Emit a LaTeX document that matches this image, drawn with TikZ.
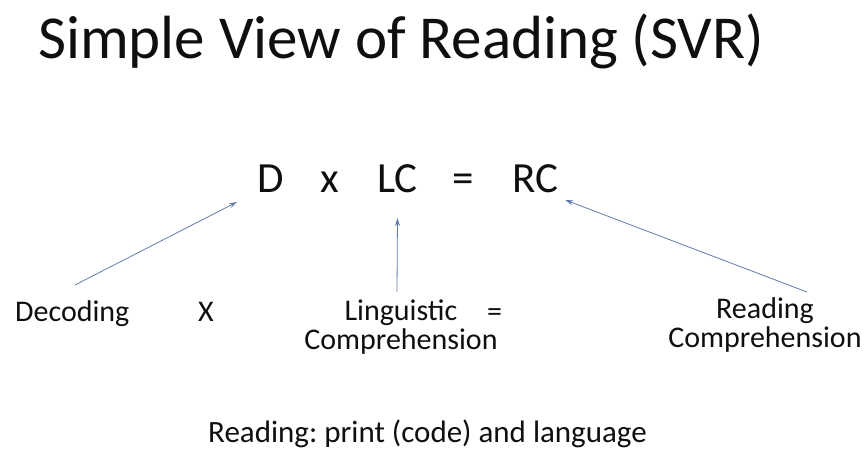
\documentclass[tikz,border=0pt]{standalone}
\usepackage{fontspec}
\setmainfont{Carlito}
\usepackage{tikz}
\usetikzlibrary{arrows.meta,positioning}
\definecolor{svrblue}{RGB}{96,124,168}
\definecolor{svrtext}{RGB}{15,15,15}
\frenchspacing

\tikzset{
  svrarrow/.style={svrblue, line width=0.8pt, -{Stealth[length=8pt,width=5pt]}},
  formula/.style={svrtext, inner sep=0pt, anchor=base west, font=\fontsize{43}{50}\selectfont},
  label/.style={svrtext, inner sep=0pt, font=\fontsize{30}{29}\selectfont},
}

\begin{document}
\begin{tikzpicture}[x=1pt, y=-1pt]
\useasboundingbox (0,0) rectangle (867,451);
% Title
\node[svrtext, inner sep=0pt, anchor=base west, font=\fontsize{61}{66}\selectfont]
  (title) at (38,58) {Simple View of Reading (SVR)};
% Formula
\node[formula] (D) at (257,192) {D};
\node[formula] (times) at (320,192) {x};
\node[formula] (LC) at (377,192) {LC};
\node[formula] (eq) at (452,192) {=};
\node[formula] (RC) at (512,192) {RC};
% Labels (base = last line)
\node[label, anchor=base west] (dec) at (15,321) {Decoding};
\node[label, anchor=base west] (timeslbl) at (198,321) {X};
\node[label, anchor=base, align=center] (lingcomp) at (401,349) {Linguistic\\Comprehension};
\node[label, anchor=base west] (eqlbl) at (487,321) {=};
\node[label, anchor=base, align=center] (readcomp) at (765,347) {Reading\\Comprehension};
% Arrows
\draw[svrarrow] ([shift={(60,-36)}]dec.base west) -- ([shift={(-20,10)}]D.base west);
\draw[svrarrow] ([shift={(-4,-57)}]lingcomp.base) -- ([shift={(0,26)}]LC.base);
\draw[svrarrow] ([shift={(42,-55)}]readcomp.base) -- ([shift={(7,8)}]RC.base east);
% Footer
\node[label, anchor=base west, font=\fontsize{31}{31}\selectfont]
  (footer) at (208,442) {Reading: print (code) and language};
\end{tikzpicture}
\end{document}
